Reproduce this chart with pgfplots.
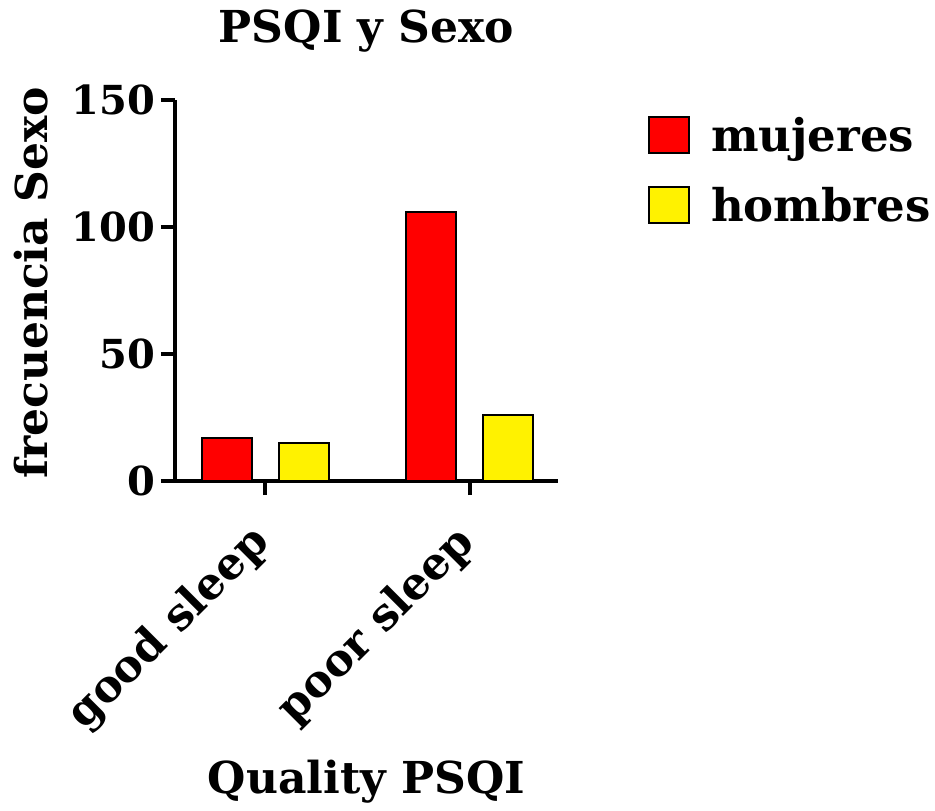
\documentclass[border=0pt]{standalone}
\usepackage{fontspec}
\setmainfont{DejaVu Serif}
\usepackage{pgfplots}
\pgfplotsset{compat=1.18}

\newcommand{\bigfont}{\fontsize{44bp}{52bp}\selectfont\bfseries}
\newcommand{\legfont}{\fontsize{45bp}{52bp}\selectfont\bfseries}
\newcommand{\tickfont}{\fontsize{40bp}{46bp}\selectfont\bfseries}
\newcommand{\xtickfont}{\fontsize{44bp}{52bp}\selectfont\bfseries}

\begin{document}
\begin{tikzpicture}
\path[use as bounding box] (0bp,0bp) rectangle (935bp,-811bp);
\begin{axis}[
  at={(175bp,-481bp)}, anchor=south west,
  scale only axis,
  width=383bp, height=381bp,
  axis x line*=bottom,
  axis y line*=left,
  axis line style={line width=3.5bp, -},
  ymin=0, ymax=150,
  xmin=-0.44, xmax=1.43,
  ytick={0,50,100,150},
  xtick={0,1},
  xticklabels={good sleep, poor sleep},
  tick align=outside,
  major tick length=14bp,
  tick style={line width=3.5bp, black},
  /pgf/number format/assume math mode=true,
  yticklabel style={font=\tickfont, xshift=-2bp},
  xticklabel style={font=\xtickfont, rotate=45, anchor=east, xshift=-27bp, yshift=-27bp},
  ybar=27bp,
  bar width=50bp,
  title={PSQI y Sexo},
  title style={font=\bigfont, at={(axis description cs:0.5,1.165)}, anchor=center},
  xlabel={Quality PSQI},
  xlabel style={font=\bigfont, at={(axis description cs:0.5,-0.79)}, anchor=center},
  ylabel={frecuencia Sexo},
  ylabel style={font=\bigfont, at={(axis description cs:-0.375,0.52)}, anchor=center, rotate=0},
  legend style={draw=none, fill=none, font=\legfont,
    at={(axis description cs:1.235,0.96)}, anchor=north west,
    row sep=30bp, inner sep=0pt},
  legend cell align=left,
  legend image code/.code={\draw[#1, line width=2bp] (0bp,-18bp) rectangle (40bp,18bp); \path[draw=none, fill=none] (0bp,0bp) -- (60bp,0bp);},
]
\addplot[fill=red, draw=black, line width=2bp] coordinates {(0,17) (1,106)};
\addlegendentry{mujeres}
\addplot[fill=yellow, draw=black, line width=2bp] coordinates {(0,15) (1,26)};
\addlegendentry{hombres}
\end{axis}
\end{tikzpicture}
\end{document}
